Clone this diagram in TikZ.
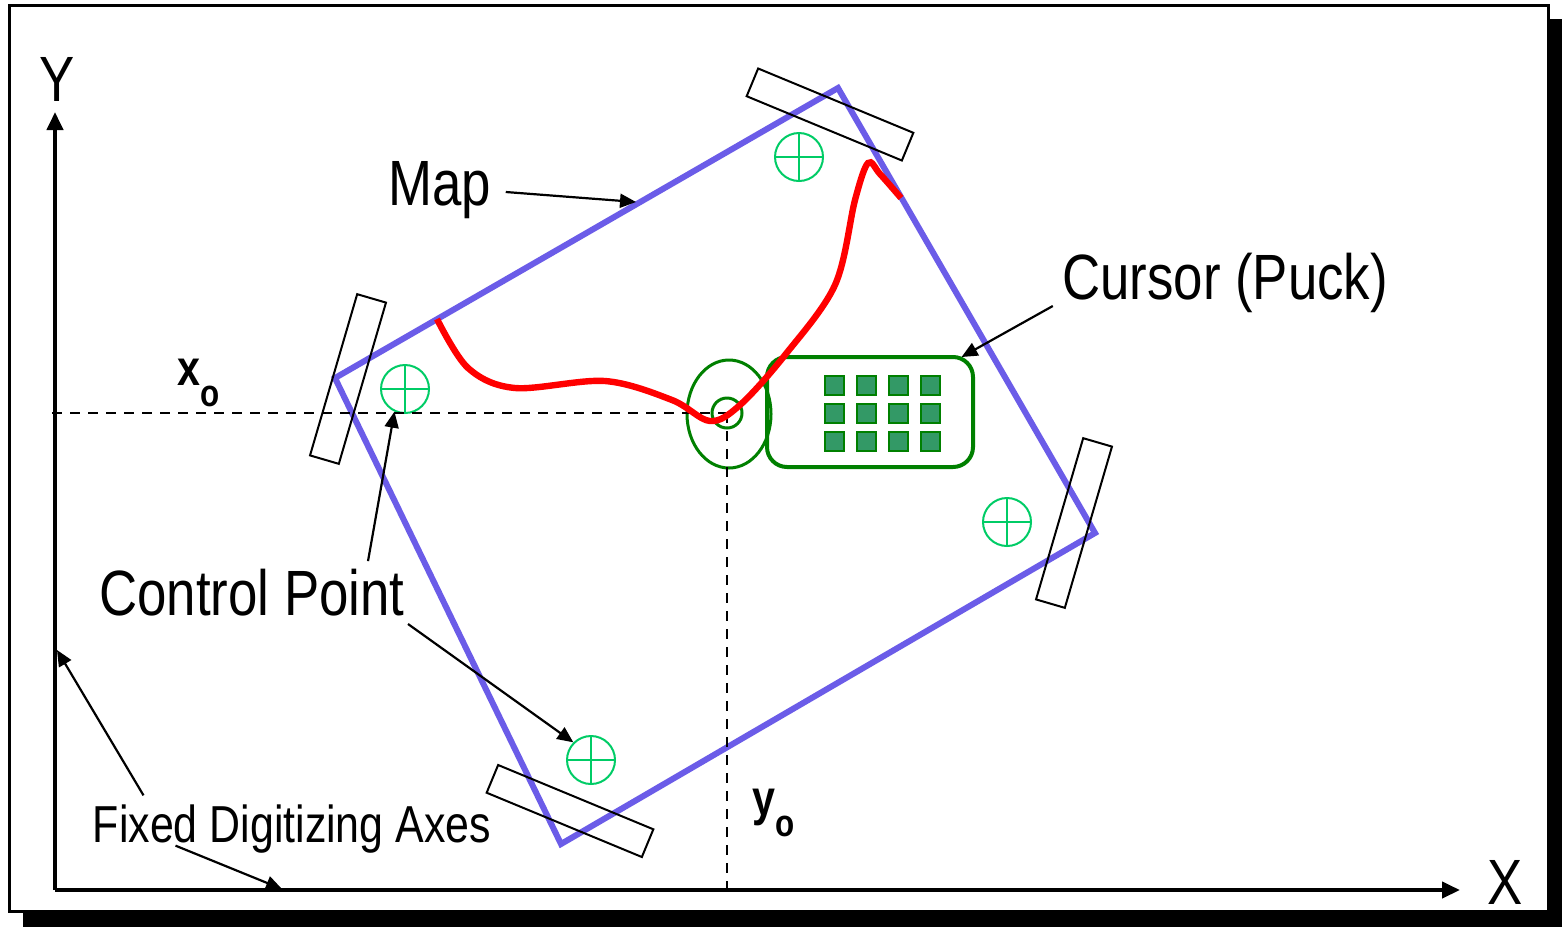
\documentclass[tikz,border=0pt]{standalone}
\usepackage{fontspec}
\setmainfont[FakeStretch=0.825]{Liberation Sans}
\usepackage{xcolor}
\usepackage{tikz}
\usetikzlibrary{arrows.meta,shapes.geometric,calc}
\definecolor{MapBlue}{HTML}{6B5CE8}
\definecolor{PuckGreen}{HTML}{008000}
\definecolor{KeyGreen}{HTML}{339966}
\definecolor{PointGreen}{HTML}{00CC66}
\tikzset{
  label/.style={inner sep=0pt,font=\fontsize{32}{36}\selectfont},
  smalllabel/.style={label,font=\fontsize{26}{30}\selectfont},
  origin/.style={label,font=\fontsize{25}{28}\selectfont\bfseries},
  axis/.style={-{Triangle[length=9pt,width=8pt]},line width=2pt,draw=black},
  leader/.style={-{Triangle[length=8pt,width=7pt]},line width=1.1pt,draw=black},
  guide/.style={line width=1.1pt,dash pattern=on 5pt off 4pt,draw=black},
  mapedge/.style={line width=3pt,draw=MapBlue,line join=miter},
  trace/.style={line width=3.2pt,draw=red,line cap=butt},
  tape/.style={draw=black,line width=1pt,minimum width=84pt,minimum height=15pt,inner sep=0pt,outer sep=0pt},
  ctrlpoint/.style={circle,draw=PointGreen,line width=1pt,minimum size=24pt,inner sep=0pt,
    path picture={\draw[PointGreen,line width=1pt]
      (path picture bounding box.north)--(path picture bounding box.south)
      (path picture bounding box.west)--(path picture bounding box.east);}},
  puck/.style={draw=PuckGreen,line width=2pt,rounded corners=10pt,minimum width=103pt,minimum height=55pt,inner sep=0pt,outer sep=0pt},
  key/.style={draw=PuckGreen,fill=KeyGreen,line width=1pt,minimum size=9.5pt,inner sep=0pt},
  lens/.style={ellipse,draw=PuckGreen,line width=1.5pt,minimum width=42pt,minimum height=54pt,inner sep=0pt},
  hair/.style={circle,draw=PuckGreen,line width=1.5pt,minimum size=15pt,inner sep=0pt}
}
\begin{document}
\begin{tikzpicture}[x=0.5pt,y=-0.5pt]
  \useasboundingbox (0,0) rectangle (1562,927);
  % frame and shadow
  \fill[black] (23,19) rectangle (1562,927);
  \draw[fill=white,line width=1.5pt] (9.5,5.5) rectangle (1548,911);
  % axes
  \coordinate (origin) at (55,890);
  \coordinate (yEnd) at (55,112);
  \coordinate (xEnd) at (1460,890);
  \draw[axis] (origin)--(yEnd);
  \draw[axis] (origin)--(xEnd);
  \node[label] (axisY) at (57,79) {Y};
  \node[label] (axisX) at (1505,882) {X};
  % map outline
  \coordinate (mapN) at (838,88);
  \coordinate (mapE) at (1095,533);
  \coordinate (mapS) at (561,844);
  \coordinate (mapW) at (335,378);
  \draw[mapedge] (mapN)--(mapE)--(mapS)--(mapW)--cycle;
  % registration tapes
  \foreach \name/\pos/\ang in {tapeN/{830,114.5}/-22.5,tapeE/{1074,523}/73.7,tapeS/{570,811}/-22.5,tapeW/{348,379}/73.7}
    \node[tape,rotate=\ang] (\name) at (\pos) {};
  % control points
  \node[ctrlpoint] (cpN) at (799,157) {};
  \node[ctrlpoint] (cpW) at (405,389) {};
  \node[ctrlpoint] (cpE) at (1007,522) {};
  \node[ctrlpoint] (cpS) at (591,760) {};
  % cursor
  \node[lens] (lens) at (729,414) {};
  \node[hair] (hair) at (727,413) {};
  \node[puck] (puck) at (870,412) {};
  \foreach \kx in {834,866,898,930}
    \foreach \ky in {385,413,441}
      \node[key] (key\kx\ky) at (\kx,\ky) {};
  % crosshair lines
  \coordinate (xoStart) at (52,413);
  \coordinate (yoFoot) at (727,890);
  \draw[guide] (xoStart)--(hair.center);
  \draw[guide] (hair.center)--(yoFoot);
  % digitized line
  \draw[trace] plot[smooth,tension=0.55] coordinates {(437,319) (468,368) (515,388) (605,381) (672,400) (710,421) (740,405) (785,355) (835,285) (855,200) (868,163) (880,174) (901,198)};
  % labels
  \node[label] (lblMap) at (440,190) {Map};
  \node[label] (lblCursor) at (1225,283) {Cursor (Puck)};
  \node[label] (lblControl) at (252,593) {Control Point};
  \node[smalllabel] (lblAxes) at (292,829) {Fixed Digitizing Axes};
  \node[origin] (lblXo) at (199,383) {x\raisebox{-.8ex}{\fontsize{19}{20}\selectfont o}};
  \node[origin] (lblYo) at (774,813) {y\raisebox{-.8ex}{\fontsize{19}{20}\selectfont o}};
  % leaders
  \coordinate (mapTip) at (636,202);
  \coordinate (yTip) at (57,650);
  \coordinate (xTip) at (282,889);
  \draw[leader] ($(lblMap.east)+(14,2)$)--(mapTip);
  \draw[leader] ($(lblCursor.west)+(-9,23)$)--(puck.31);
  \draw[leader] ($(lblControl.north east)+(-37,-8)$)--(cpW.-115);
  \draw[leader] ($(lblControl.east)+(3,31)$)--(cpS.135);
  \draw[leader] ($(lblAxes.north west)+(51,-9)$)--(yTip);
  \draw[leader] ($(lblAxes.south west)+(83,-8)$)--(xTip);
\end{tikzpicture}
\end{document}
